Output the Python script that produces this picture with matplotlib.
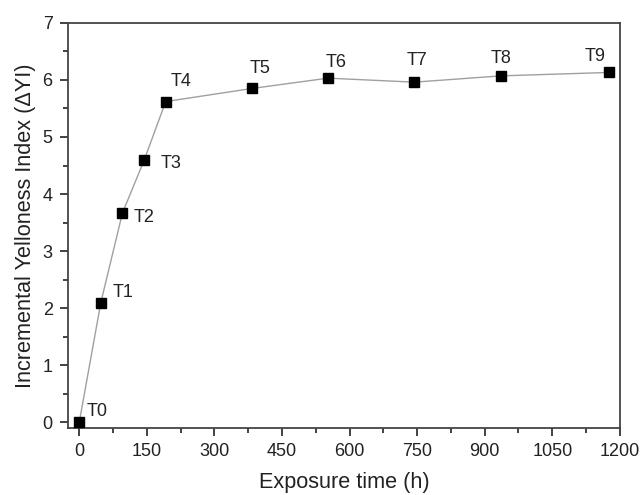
import matplotlib.pyplot as plt
from matplotlib.ticker import MultipleLocator

plt.rcParams['font.family'] = ['Liberation Sans', 'DejaVu Sans']

# exposure time (h) and incremental yellowness index
hours = [0, 48, 96, 144, 192, 384, 552, 744, 936, 1176]
dyi = [0.0, 2.10, 3.67, 4.59, 5.62, 5.85, 6.03, 5.96, 6.07, 6.13]
labels = ['T0', 'T1', 'T2', 'T3', 'T4', 'T5', 'T6', 'T7', 'T8', 'T9']
label_offsets = [(18, 11), (22, 10), (22, -5), (27, -3), (15, 20),
                 (8, 20), (8, 16), (3, 22), (0, 17), (-14, 16)]

ink = '#222222'

fig = plt.figure(figsize=(6.41, 4.95), dpi=100)
ax = fig.add_axes([0.106, 0.135, 0.861, 0.819])

ax.plot(hours, dyi, color='#a0a0a0', lw=1.0, zorder=2)
ax.plot(hours, dyi, ls='none', marker='s', ms=7, color='black', zorder=3)

for x, y, lab, off in zip(hours, dyi, labels, label_offsets):
    ax.annotate(lab, (x, y), xytext=off, textcoords='offset pixels',
                ha='center', va='center', fontsize=13, color=ink)

ax.set_xlim(-25, 1200)
ax.set_ylim(-0.1, 7)
ax.xaxis.set_major_locator(MultipleLocator(150))
ax.xaxis.set_minor_locator(MultipleLocator(75))
ax.yaxis.set_major_locator(MultipleLocator(1))
ax.yaxis.set_minor_locator(MultipleLocator(0.5))

ax.tick_params(which='both', direction='out', colors=ink, width=1.2)
ax.tick_params(which='major', length=6, labelsize=13, pad=5)
ax.tick_params(which='minor', length=3.5)
for s in ax.spines.values():
    s.set_color('#444444')
    s.set_linewidth(1.3)

ax.set_xlabel('Exposure time (h)', fontsize=15.6, color=ink, labelpad=8)
ax.set_ylabel('Incremental Yelloness Index (\u0394YI)', fontsize=15.6, color=ink, labelpad=5)

fig.savefig('out.png', dpi=100)
